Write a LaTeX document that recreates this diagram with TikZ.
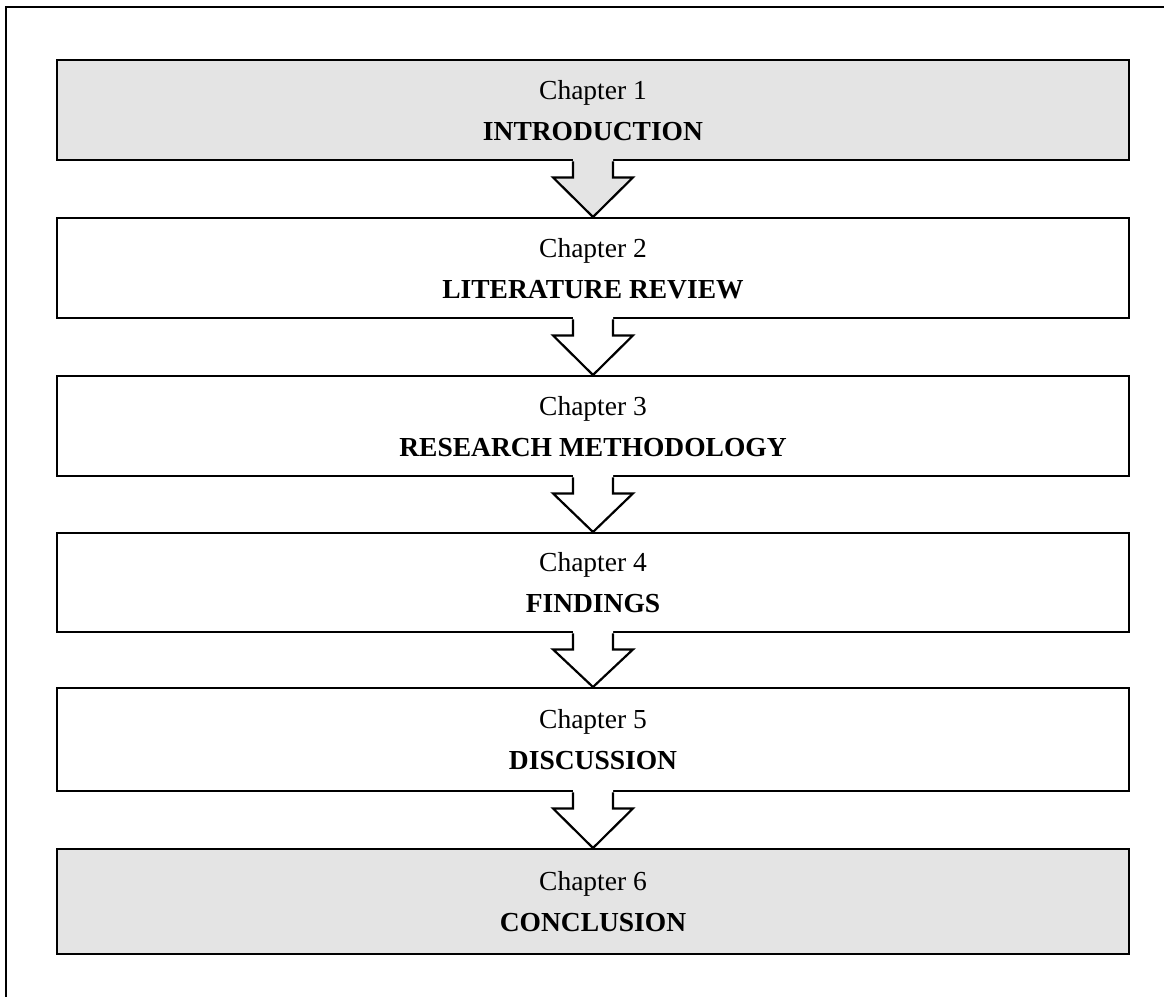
\documentclass[tikz,border=0pt]{standalone}
\usepackage{fontspec}
\setmainfont{Liberation Serif}
\usetikzlibrary{calc}

\definecolor{boxgray}{RGB}{228,228,228}

\tikzset{
  chapbox/.style={draw=black, line width=2.4pt, minimum width=1072pt,
    inner sep=0pt, anchor=north, align=center,
    font=\fontsize{27.5}{41}\selectfont},
  flowline/.style={draw=black, line width=2.2pt, line join=miter},
  frameline/.style={draw=black, line width=2.6pt}
}

% hollow block arrow from the bottom of one box to the top of the next
\newcommand{\chapflow}[3]{%
  \fill[#3] ($(#1.south)+(-20,-4)$) -- ($(#1.south)+(-20,16)$)
    -- ($(#1.south)+(-40,16)$) -- (#2.north) -- ($(#1.south)+(40,16)$)
    -- ($(#1.south)+(20,16)$) -- ($(#1.south)+(20,-4)$) -- cycle;
  \draw[flowline] ($(#1.south)+(-20,0)$) -- ($(#1.south)+(-20,16)$)
    -- ($(#1.south)+(-40,16)$) -- (#2.north) -- ($(#1.south)+(40,16)$)
    -- ($(#1.south)+(20,16)$) -- ($(#1.south)+(20,0)$);
}

\begin{document}
\begin{tikzpicture}[x=1pt, y=-1pt]
  \useasboundingbox (0,0) rectangle (1164,996);
  \clip (0,0) rectangle (1164,996);

  % outer frame (runs past the right and bottom edges)
  \draw[frameline] (6,7) rectangle (1200,1030);

  \node[chapbox, fill=boxgray, minimum height=100pt] (c1) at (593,59)
    {Chapter 1\\\textbf{INTRODUCTION}};
  \node[chapbox, fill=white, minimum height=100pt] (c2) at (593,217)
    {Chapter 2\\\textbf{LITERATURE REVIEW}};
  \node[chapbox, fill=white, minimum height=100pt] (c3) at (593,375)
    {Chapter 3\\\textbf{RESEARCH METHODOLOGY}};
  \node[chapbox, fill=white, minimum height=99pt] (c4) at (593,532)
    {Chapter 4\\\textbf{FINDINGS}};
  \node[chapbox, fill=white, minimum height=103pt] (c5) at (593,687)
    {Chapter 5\\\textbf{DISCUSSION}};
  \node[chapbox, fill=boxgray, minimum height=105pt] (c6) at (593,848)
    {Chapter 6\\\textbf{CONCLUSION}};

  \chapflow{c1}{c2}{boxgray}
  \chapflow{c2}{c3}{white}
  \chapflow{c3}{c4}{white}
  \chapflow{c4}{c5}{white}
  \chapflow{c5}{c6}{white}
\end{tikzpicture}
\end{document}
